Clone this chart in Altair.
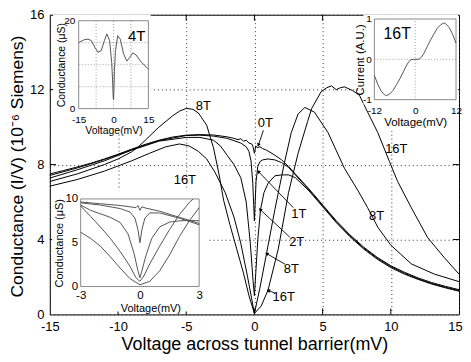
import math
import altair as alt
import pandas as pd

FONT = "Liberation Sans, Arial, Helvetica, sans-serif"

# ---------------- main panel data ----------------
x_0T = [-15, -14, -13, -12, -11, -10, -9, -8, -7, -6, -5, -4, -3, -2, -1.5, -1.2, -1.0, -0.8, -0.6,
        -0.4, -0.2, -0.1, 0, 0.1, 0.2, 0.4, 0.6, 0.8, 1.0, 1.5, 2, 2.5, 3, 3.5, 4, 5, 6, 7, 8, 9,
        10, 11, 12, 13, 14, 15]
y_0T = [7.5, 7.68, 7.87, 8.07, 8.3, 8.55, 8.82, 9.08, 9.3, 9.47, 9.57, 9.6, 9.58, 9.48, 9.4, 9.33,
        9.38, 9.25, 9.3, 9.15, 9.1, 8.95, 8.6, 9.0, 8.9, 8.95, 8.85, 8.8, 8.72, 8.5, 8.25, 7.9, 7.5,
        7.1, 6.7, 5.85, 5.0, 4.25, 3.6, 3.05, 2.6, 2.25, 1.95, 1.7, 1.5, 1.32]

x_1T = [-15, -13, -11, -9, -7, -5, -4, -3, -2, -1, -0.6, -0.4, -0.25, -0.12, -0.05, 0, 0.05, 0.12,
        0.25, 0.4, 0.6, 1.0, 1.5, 2, 2.5, 3, 4, 5, 6, 7, 8, 9, 10, 11, 12, 13, 14, 15]
y_1T = [7.42, 7.82, 8.27, 8.8, 9.28, 9.55, 9.57, 9.52, 9.4, 9.15, 8.95, 8.7, 8.2, 7.0, 5.8, 5.0,
        5.9, 7.1, 7.9, 8.15, 8.25, 8.3, 8.25, 8.1, 7.85, 7.45, 6.65, 5.8, 4.95, 4.2, 3.55, 3.0,
        2.55, 2.2, 1.9, 1.65, 1.45, 1.27]

x_2T = [-15, -13, -11, -9, -7, -5, -4, -3, -2.5, -2, -1.5, -1, -0.6, -0.3, -0.1, 0, 0.1, 0.25,
        0.45, 0.7, 1.0, 1.5, 2, 2.5, 3, 4, 5, 6, 7, 8, 9, 10, 11, 12, 13, 14, 15]
y_2T = [7.28, 7.72, 8.2, 8.77, 9.25, 9.45, 9.45, 9.3, 9.0, 8.5, 8.0, 7.3, 6.0, 3.8, 1.8, 1.0, 2.2,
        4.0, 5.6, 6.5, 7.0, 7.4, 7.45, 7.45, 7.3, 6.6, 5.75, 4.9, 4.15, 3.5, 2.95, 2.5, 2.15, 1.87,
        1.62, 1.42, 1.24]

x_8T = [-15, -13, -11, -10, -9, -8.5, -8, -7, -6, -5.5, -5, -4.5, -4.1, -3.5, -3.0, -2.6, -2.26,
        -1.8, -1.3, -0.8, -0.4, 0, 0.4, 0.9, 1.5, 2.2, 2.7, 3.2, 3.7, 4.4, 5.4, 6.6, 7.6, 8.3, 9.05,
        10, 11.5, 13.2, 15]
y_8T = [7.1, 7.5, 8.0, 8.3, 8.68, 8.95, 9.3, 10.0, 10.6, 10.85, 11.0, 10.95, 10.75, 10.1, 8.9, 7.5,
        6.1, 4.8, 3.5, 2.2, 1.0, 0.05, 1.4, 3.3, 5.6, 8.1, 9.7, 10.7, 11.05, 10.8, 9.7, 7.8, 6.6,
        5.7, 4.65, 3.7, 2.7, 2.15, 1.75]

x_16T = [-15, -13, -11, -9, -7.7, -6.5, -5.5, -4.8, -4.1, -3.5, -2.9, -2.14, -1.5, -1.0, -0.5, 0,
         0.5, 1.0, 1.75, 2.5, 3.2, 3.9, 4.2, 4.9, 5.3, 5.64, 6.0, 6.3, 6.6, 7.2, 7.7, 8.3, 9.05,
         9.9, 10.5, 11.5, 12.7, 13.9, 15]
y_16T = [6.85, 7.2, 7.65, 8.2, 8.6, 8.95, 9.1, 9.0, 8.7, 8.3, 7.6, 6.5, 5.2, 3.8, 2.0, 0.05, 0.45,
         1.3, 3.5, 6.5, 8.6, 10.3, 11.0, 11.9, 12.1, 12.2, 12.0, 12.1, 12.15, 11.95, 11.7, 10.8,
         9.7, 8.16, 7.1, 5.7, 4.1, 3.05, 2.15]

label_text = ["8T", "16T", "0T", "1T", "2T", "8T", "16T", "16T", "8T"]
label_x = [-3.75, -5.1, 0.8, 3.25, 3.1, 2.7, 2.15, 10.4, 8.95]
label_y = [11.15, 7.2, 10.2, 5.35, 3.85, 2.42, 0.95, 8.85, 5.25]

arrow_x1 = [0.66, 2.85, 2.6, 2.24, 1.5]
arrow_y1 = [9.83, 5.7, 4.12, 2.68, 1.14]
arrow_x2 = [0.29, 0.29, 0.42, 0.9, 1.02]
arrow_y2 = [9.04, 7.63, 5.6, 3.25, 1.28]

tick_x = [-10, -5, 0, 5, 10]
tick_y = [4, 8, 12]

# ---------------- inset A: 4T ----------------
xa_4T = [-15, -14, -12.5, -11, -9.6, -8.1, -6.7, -5.3, -3.9, -2.9, -1.7, -0.8, -0.4, -0.15, 0, 0.15,
         0.4, 0.8, 1.8, 2.9, 4.3, 5.7, 6.9, 8.3, 9.7, 11.9, 15]
ya_4T = [15.0, 15.3, 15.7, 15.8, 15.5, 14.0, 12.8, 13.2, 15.5, 17.0, 15.5, 10.5, 6.5, 2.5, 2.0, 4.0,
         8.5, 13.0, 16.6, 15.8, 12.5, 10.8, 11.6, 12.7, 12.2, 10.6, 9.0]
grid_a_x = [-7.5, 0, 7.5]
grid_a_y = [5, 10, 15]

# ---------------- inset B: 16T I-V ----------------
xb_iv = [-12, -11, -10, -9, -8.4, -7.5, -6.5, -5.5, -4.5, -3.5, -2.5, -1.8, -1.2, -0.5, 0, 0.5, 1.2,
         1.8, 2.5, 3.5, 4.5, 5.5, 6.5, 7.5, 8.4, 9, 10, 11, 12]
yb_iv = [-0.4, -0.62, -0.79, -0.88, -0.9, -0.86, -0.77, -0.63, -0.48, -0.31, -0.14, -0.05, -0.01, 0,
         0, 0, 0.01, 0.05, 0.14, 0.31, 0.48, 0.63, 0.77, 0.86, 0.9, 0.88, 0.79, 0.62, 0.4]

# ---------------- inset C: low-bias conductance ----------------
xc_0T = [-3, -2, -1, -0.5, -0.2, -0.1, 0, 0.1, 0.3, 1, 2, 3]
yc_0T = [9.65, 9.45, 9.25, 9.1, 9.0, 9.25, 8.7, 9.1, 8.95, 8.6, 7.9, 7.2]
xc_1T = [-3, -2, -1, -0.5, -0.25, -0.1, 0, 0.1, 0.25, 0.5, 1, 2, 3]
yc_1T = [9.55, 9.3, 8.9, 8.5, 7.8, 6.5, 5.0, 6.5, 7.8, 8.4, 8.4, 7.8, 7.05]
xc_2T = [-3, -2.5, -2, -1.5, -1, -0.6, -0.3, -0.1, 0, 0.1, 0.3, 0.6, 1, 1.5, 2, 2.5, 3]
yc_2T = [9.3, 8.7, 8.3, 7.9, 7.3, 6.0, 3.8, 1.8, 1.0, 1.8, 3.5, 5.5, 6.8, 7.35, 7.5, 7.55, 7.5]
xc_8T = [-3, -2.5, -2, -1.5, -1, -0.5, -0.2, 0, 0.2, 0.5, 1, 1.5, 2, 2.5, 2.7]
yc_8T = [9.2, 8.0, 6.8, 5.5, 4.0, 2.3, 1.0, 0.6, 1.2, 2.6, 4.6, 6.5, 8.2, 9.6, 10.0]
xc_16T = [-3, -2.5, -2, -1.5, -1, -0.5, 0, 0.5, 1, 1.5, 2, 2.5, 3]
yc_16T = [6.2, 5.5, 4.6, 3.4, 2.1, 0.9, 0.2, 0.6, 1.8, 3.6, 5.7, 7.5, 9.0]

# white backing boxes of the insets (in each inset's own data units): (x0, x1, y0, y1)
boxes_a = [(-26, 16, -5.8, 21.4)]
boxes_b = [(-15.2, 12.6, -1.12, 1.11), (-9.4, 10.2, -1.78, -1.12)]
boxes_c = [(-4.45, 3.5, -2.85, 11.0)]

W, H = 411, 301


def curves(pairs):
    frames = []
    for name, xs, ys in pairs:
        frames.append(pd.DataFrame({"x": xs, "y": ys, "c": name, "o": range(len(xs))}))
    return pd.concat(frames, ignore_index=True)


# ---------------- main panel ----------------
main_scale_x = alt.Scale(domain=[-15, 15], nice=False, zero=False)
main_scale_y = alt.Scale(domain=[0, 16], nice=False, zero=False)

mx_axis = alt.Axis(values=[-15, -10, -5, 0, 5, 10, 15], grid=True, gridDash=[1, 3], gridColor="#333",
                   gridWidth=1, ticks=False, domain=False, labelFontSize=13, labelFont=FONT,
                   labelPadding=6, labelColor="black", labelExpr="datum.value", labelFlush=False,
                   labelOffset={"condition": {"test": "datum.value == 15", "value": -4}, "value": 0},
                   title="Voltage across tunnel barrier(mV)", titleFontSize=18, titleFont=FONT,
                   titleFontWeight="normal", titleColor="black", titleBaseline="middle", titleY=30)
my_axis = alt.Axis(values=[0, 4, 8, 12, 16], grid=True, gridDash=[1, 3], gridColor="#333",
                   gridWidth=1, ticks=False, domain=False, labelFontSize=13, labelFont=FONT,
                   labelPadding=6, labelColor="black", labelFlush=False,
                   title="Conductance (I/V)  (10\u207b\u2076 Siemens)", titleFontSize=17.5,
                   titleFont=FONT, titleFontWeight="normal", titleColor="black", titleAngle=270,
                   titleBaseline="middle", titleAlign="center", titleX=-32, titleY=152)

MX = lambda f, ax=None: alt.X(f, scale=main_scale_x, axis=ax)
MY = lambda f, ax=None: alt.Y(f, scale=main_scale_y, axis=ax)

main_df = curves([("0T", x_0T, y_0T), ("1T", x_1T, y_1T), ("2T", x_2T, y_2T),
                  ("8T", x_8T, y_8T), ("16T", x_16T, y_16T)])

main_lines = alt.Chart(main_df).mark_line(color="black", strokeWidth=1).encode(
    x=MX("x:Q", mx_axis), y=MY("y:Q", my_axis), detail="c:N", order="o:Q")

lab_df = pd.DataFrame({"x": label_x, "y": label_y, "t": label_text})
main_labels = alt.Chart(lab_df).mark_text(fontSize=13, font=FONT, color="black").encode(
    x=MX("x:Q"), y=MY("y:Q"), text="t:N")

px_x = W / 30.0
px_y = H / 16.0
angles = []
for a, b, c, d in zip(arrow_x1, arrow_y1, arrow_x2, arrow_y2):
    dx = (c - a) * px_x
    dy = -(d - b) * px_y
    angles.append(math.degrees(math.atan2(dx, -dy)) % 360)
arr_df = pd.DataFrame({"x1": arrow_x1, "y1": arrow_y1, "x2": arrow_x2, "y2": arrow_y2, "ang": angles})
arrow_shafts = alt.Chart(arr_df).mark_rule(color="black", strokeWidth=0.9).encode(
    x=MX("x1:Q"), y=MY("y1:Q"), x2="x2:Q", y2="y2:Q")
arrow_heads = alt.Chart(arr_df).mark_point(shape="triangle-up", filled=True, size=16, color="black",
                                            opacity=1).encode(
    x=MX("x2:Q"), y=MY("y2:Q"), angle=alt.Angle("ang:Q", scale=None))

tick_df_v = pd.DataFrame({"x": tick_x * 2, "y": [0] * 5 + [16] * 5, "y2": [0.32] * 5 + [15.68] * 5})
tick_df_h = pd.DataFrame({"y": tick_y * 2, "x": [-15] * 3 + [15] * 3, "x2": [-14.55] * 3 + [14.55] * 3})
ticks_v = alt.Chart(tick_df_v).mark_rule(color="black", strokeWidth=1).encode(
    x=MX("x:Q"), y=MY("y:Q"), y2="y2:Q")
ticks_h = alt.Chart(tick_df_h).mark_rule(color="black", strokeWidth=1).encode(
    x=MX("x:Q"), x2="x2:Q", y=MY("y:Q"))

main_charts = [main_lines, ticks_v, ticks_h, arrow_shafts, arrow_heads, main_labels]


# ---------------- inset helper ----------------
def inset(xdom, ydom, xrange, yrange, xvals, yvals, xtitle, ytitle, x_title_y, y_title_x,
          boxes, curve_df, grid_x, grid_y, grid_dash, texts, lab_size, title_size, x_pad, y_pad,
          x_title_x=None):
    sx = alt.Scale(domain=xdom, range=xrange, nice=False, zero=False)
    sy = alt.Scale(domain=ydom, range=yrange, nice=False, zero=False)
    xa_kw = dict(orient="bottom", offset=yrange[0] - H, values=xvals, grid=False, ticks=False,
                 domain=False, labelFontSize=lab_size, labelPadding=x_pad, labelFlush=False,
                 labelColor="black", labelFont=FONT, labelExpr="datum.value", title=xtitle,
                 titleFont=FONT, titleFontSize=title_size, titleFontWeight="normal",
                 titleColor="black", titleBaseline="middle", titleY=x_title_y, zindex=1)
    if x_title_x is not None:
        xa_kw["titleX"] = x_title_x
    xa = alt.Axis(**xa_kw)
    ya = alt.Axis(orient="left", offset=-xrange[0], values=yvals, grid=False, ticks=False,
                  domain=False, labelFontSize=lab_size, labelPadding=y_pad, labelFlush=False,
                  labelColor="black", labelFont=FONT, labelExpr="datum.value", title=ytitle,
                  titleFont=FONT, titleFontSize=title_size, titleFontWeight="normal",
                  titleColor="black", titleAngle=270, titleBaseline="middle",
                  titleAlign="center", titleX=y_title_x, zindex=1)
    X0 = lambda f: alt.X(f, scale=sx, axis=None)
    Y0 = lambda f: alt.Y(f, scale=sy, axis=None)

    bdf = pd.DataFrame({"x": [b[0] for b in boxes], "x2": [b[1] for b in boxes],
                        "y": [b[2] for b in boxes], "y2": [b[3] for b in boxes]})
    back = alt.Chart(bdf).mark_rect(color="white").encode(
        x=alt.X("x:Q", scale=sx, axis=xa), x2="x2:Q",
        y=alt.Y("y:Q", scale=sy, axis=ya), y2="y2:Q")
    layers = [back]
    if grid_x:
        gdf = pd.DataFrame({"x": grid_x, "y": [ydom[0]] * len(grid_x), "y2": [ydom[1]] * len(grid_x)})
        layers.append(alt.Chart(gdf).mark_rule(color="#888", strokeWidth=0.8,
                                               strokeDash=grid_dash).encode(
            x=X0("x:Q"), y=Y0("y:Q"), y2="y2:Q"))
    if grid_y:
        gdf = pd.DataFrame({"y": grid_y, "x": [xdom[0]] * len(grid_y), "x2": [xdom[1]] * len(grid_y)})
        layers.append(alt.Chart(gdf).mark_rule(color="#888", strokeWidth=0.8,
                                               strokeDash=grid_dash).encode(
            y=Y0("y:Q"), x=X0("x:Q"), x2="x2:Q"))
    fdf = pd.DataFrame({"x": [xdom[0]], "x2": [xdom[1]], "y": [ydom[0]], "y2": [ydom[1]]})
    layers.append(alt.Chart(fdf).mark_rect(filled=False, color="#8a8a8a", strokeWidth=1).encode(
        x=X0("x:Q"), x2="x2:Q", y=Y0("y:Q"), y2="y2:Q"))
    layers.append(alt.Chart(curve_df).mark_line(color="#555", strokeWidth=1).encode(
        x=X0("x:Q"), y=Y0("y:Q"), detail="c:N", order="o:Q"))
    for t, tx, ty, size in texts:
        tdf = pd.DataFrame({"x": [tx], "y": [ty], "t": [t]})
        layers.append(alt.Chart(tdf).mark_text(fontSize=size, font=FONT, color="black").encode(
            x=X0("x:Q"), y=Y0("y:Q"), text="t:N"))
    return layers


inset_a = inset([-15, 15], [0, 20], [29, 99], [94.3, 6], [-15, 0, 15], [0, 20],
                "Voltage(mV)", "Conductance (\u03bcS)", 22, -17, boxes_a,
                curves([("4T", xa_4T, ya_4T)]), grid_a_x, grid_a_y, [1, 2],
                [("4T", 10.0, 16.6, 15)], 10, 10.5, 6, 4)

inset_b = inset([-12, 12], [-1, 1], [326, 408], [85.3, 4.3], [-12, 0, 12], [-1, 0, 1],
                "Voltage(mV)", "Current (A.U.)", 23, -14, boxes_b,
                curves([("16T", xb_iv, yb_iv)]), [0], [0], [1, 2],
                [("16T", -5.3, 0.63, 16)], 10, 11.5, 6, 3)

inset_c = inset([-3, 3], [0, 10], [31, 150], [273, 185], [-3, 0, 3], [0, 5, 10],
                "Voltage(mV)", "Conductance (\u03bcS)", 22, -21, boxes_c,
                curves([("0T", xc_0T, yc_0T), ("1T", xc_1T, yc_1T), ("2T", xc_2T, yc_2T),
                        ("8T", xc_8T, yc_8T), ("16T", xc_16T, yc_16T)]),
                [], [], [1, 2], [], 11.5, 11, 3, 3, x_title_x=101)

chart = alt.layer(*(main_charts + inset_a + inset_b + inset_c)).resolve_scale(
    x="independent", y="independent"
).properties(
    width=W, height=H,
    padding={"left": 42, "top": 6, "right": 4, "bottom": 40},
    autosize=alt.AutoSizeParams(type="none"),
).configure_view(
    stroke="black", strokeWidth=1
)

chart.save("out.html", embed_options={"renderer": "svg", "actions": False})
